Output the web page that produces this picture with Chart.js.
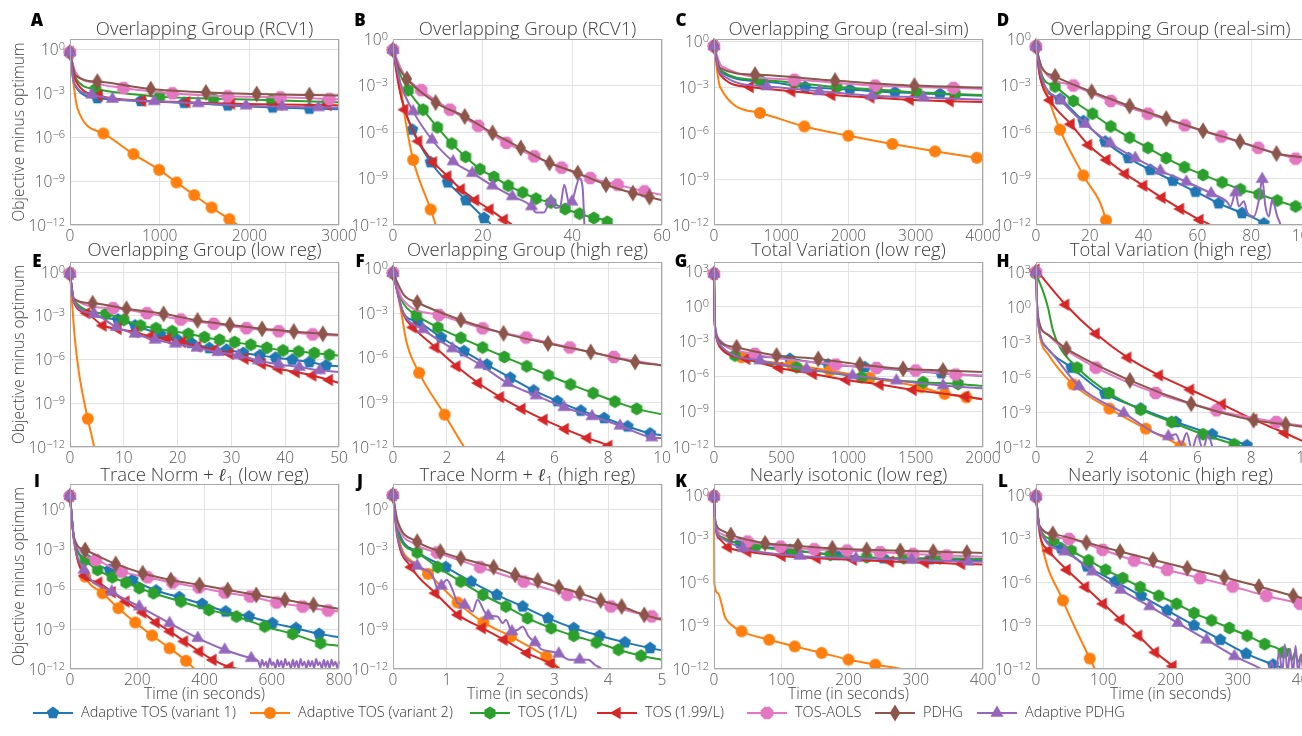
<!DOCTYPE html>
<html>
<head>
<meta charset="utf-8">
<script src="https://cdn.jsdelivr.net/npm/chart.js"></script>
<style>
  html, body { margin: 0; padding: 0; background: #fff; overflow: hidden; }
  #page { position: relative; width: 1302px; height: 736px; overflow: hidden; background: #fff; }
  canvas.panel { position: absolute; }
  .leg-icon { position: absolute; top: 703px; }
  .leg-text { position: absolute; top: 702px; font: 300 14.5px "Open Sans", sans-serif; color: #333; line-height: 20px; white-space: nowrap; }
</style>
</head>
<body>
<div id="page"></div>
<script>
// series (same order in every panel)
const seriesNames = ['Adaptive TOS (variant 1)', 'Adaptive TOS (variant 2)', 'TOS (1/L)', 'TOS (1.99/L)', 'TOS-AOLS', 'PDHG', 'Adaptive PDHG'];
const seriesColors = ['#1f77b4', '#ff7f0e', '#2ca02c', '#d62728', '#e377c2', '#8c564b', '#9467bd'];
const seriesShapes = ['pentagon', 'circle', 'hexagon', 'triLeft', 'octagon', 'thinDiamond', 'triUp'];

// panels
const panelLetters = ['A','B','C','D','E','F','G','H','I','J','K','L'];
const panelTitles = [
  'Overlapping Group (RCV1)', 'Overlapping Group (RCV1)', 'Overlapping Group (real-sim)', 'Overlapping Group (real-sim)',
  'Overlapping Group (low reg)', 'Overlapping Group (high reg)', 'Total Variation (low reg)', 'Total Variation (high reg)',
  'Trace Norm + ℓ1 (low reg)', 'Trace Norm + ℓ1 (high reg)', 'Nearly isotonic (low reg)', 'Nearly isotonic (high reg)'
];
const xMax  = [3000, 60, 4000, 100, 50, 10, 2000, 10, 800, 5, 400, 400];
const xStep = [1000, 20, 1000, 20, 10, 2, 500, 2, 200, 1, 100, 100];
// y axis: top of axis and tick positions, as powers of ten
const yTopExp = [0.75, 0, 0.17, 0, 0.7, 0.47, 3.77, 3.86, 1.96, 1.9, 0.76, 0.76];
const yTicksLow = [0, -3, -6, -9, -12];
const yTicksHigh = [3, 0, -3, -6, -9, -12];

// data: [time, log10(objective - optimum)]
// *_marks: points that carry a marker; *_bends: line-only vertices (initial drop, tails, ends)
const A_marks = [
  [[0,-0.16],[305,-3.3],[790,-3.5],[1274,-3.62],[1760,-3.8],[2261,-3.94],[2670,-4.02]],
  [[0,-0.16],[372,-5.72],[708,-7.14],[994,-8.22],[1188,-9.08],[1385,-9.95],[1579,-10.8],[1777,-11.6]],
  [[0,-0.16],[287,-2.68],[1000,-3.2],[1600,-3.34],[2250,-3.45],[2870,-3.57]],
  [[0,-0.16],[324,-3.13],[808,-3.48],[1300,-3.58],[1800,-3.68],[2330,-3.74],[2875,-3.78]],
  [[0,-0.16],[596,-2.61],[1143,-2.97],[1758,-3.18],[2346,-3.25],[2894,-3.36]],
  [[0,-0.16],[305,-2.17],[901,-2.68],[1516,-2.91],[2082,-3.02],[2670,-3.09]],
  [[0,-0.16],[242,-3.07],[473,-3.36],[939,-3.52],[1430,-3.66],[1963,-3.82],[2365,-3.89],[2771,-3.94]]
];
const A_bends = [
  [[45,-2.33],[3000,-4.06]],
  [[82,-3.98],[1870,-12.0],[2000,-12.5]],
  [[63,-1.92],[3000,-3.59]],
  [[63,-2.1],[3000,-3.8]],
  [[63,-1.53],[250,-2.22],[3000,-3.38]],
  [[63,-1.76],[3000,-3.12]],
  [[45,-2.22],[3000,-3.96]]
];
const B_marks = [
  [[0,-0.7],[4.3,-5.85],[8.4,-7.95],[12.2,-9.25],[16.3,-10.4],[20.3,-11.55]],
  [[0,-0.7],[4.5,-7.8],[8.4,-11.0]],
  [[0,-0.7],[3.4,-3.3],[6.7,-4.56],[9.9,-5.7],[13.1,-6.75],[16.2,-7.6],[19.4,-8.4],[22.5,-8.9],[25.7,-9.46],[28.9,-9.9],[31.9,-10.3],[35.2,-10.55],[38.4,-10.97],[41.6,-11.27],[44.8,-11.55],[47.8,-11.8]],
  [[0,-0.7],[2.6,-4.56],[5.7,-6.6],[9,-7.95],[12.2,-8.86],[15.2,-9.7],[18.4,-10.4],[21.6,-11.0],[24.8,-11.66]],
  [[0,-0.7],[6.3,-3.3],[12.7,-4.56],[19,-5.6],[25.3,-6.7],[31.5,-7.57],[37.6,-8.3],[44,-8.97],[50.1,-9.4],[56.1,-9.83]],
  [[0,-0.7],[3.1,-2.58],[9.5,-4.1],[16,-5.0],[22.2,-6.06],[28.5,-7.03],[34.9,-8.0],[41.2,-8.65],[47.5,-9.4],[53.5,-9.94],[57.2,-10.2]],
  [[0,-0.7],[4.5,-4.67],[8.7,-6.5],[13.4,-7.9],[17.7,-8.65],[22.2,-9.46],[26.6,-10.15],[30.9,-10.8],[35.2,-10.45],[39.9,-10.5]]
];
const B_bends = [
  [[2,-3.9],[21.8,-12],[22.5,-12.6]],
  [[1.6,-2.9],[2.8,-5.3],[9.5,-12],[10.2,-13]],
  [[1.2,-2.0],[48.3,-12],[50,-12.4]],
  [[1.3,-3.05],[26.6,-12],[28,-12.4]],
  [[2.5,-2.3],[60,-10.05]],
  [[1.2,-1.8],[60,-10.4]],
  [[1.6,-2.8],[31.9,-11.2],[33.6,-11.2],[36.3,-10.9],[37.3,-10.8],[38.2,-9.4],[39.3,-10.6],[41.6,-9.0],[42.3,-9.6],[42.7,-12],[43,-13]]
];
const C_marks = [
  [[0,-0.3],[710,-2.6],[1355,-2.97],[2020,-3.14],[2690,-3.32],[3360,-3.43]],
  [[0,-0.3],[684,-4.67],[1343,-5.55],[1998,-6.16],[2652,-6.7],[3287,-7.18],[3908,-7.6]],
  [[0,-0.3],[660,-2.5],[1200,-2.7],[1825,-2.97],[2420,-3.14],[3015,-3.32],[3585,-3.43]],
  [[0,-0.3],[535,-2.97],[1155,-3.25],[1750,-3.5],[2330,-3.65],[2915,-3.8],[3510,-3.9]],
  [[0,-0.3],[1195,-2.5],[2395,-2.88],[3560,-3.03]],
  [[0,-0.3],[610,-2.16],[1800,-2.55],[2980,-2.88]],
  [[0,-0.3],[785,-2.93],[1565,-3.25],[2345,-3.54],[3115,-3.65]]
];
const C_bends = [
  [[90,-1.94],[4000,-3.55]],
  [[90,-2.97],[4000,-7.65]],
  [[90,-1.83],[4000,-3.5]],
  [[90,-2.16],[4000,-3.95]],
  [[114,-1.6],[4000,-3.1]],
  [[90,-1.72],[4000,-3.0]],
  [[90,-2.05],[4000,-3.8]]
];
const D_marks = [
  [[0,-0.48],[8.9,-3.88],[17.6,-5.3],[25.7,-6.62],[34.4,-7.68],[42.5,-8.44],[50.9,-9.14],[59.3,-9.85],[67.9,-10.6],[76.6,-11.23],[84.7,-11.9]],
  [[0,-0.48],[8.9,-5.85],[17.6,-8.8],[26,-11.7]],
  [[0,-0.48],[7.1,-3.07],[13.9,-4.0],[21,-4.82],[27.8,-5.64],[34.8,-6.36],[41.6,-7.02],[48.4,-7.68],[55.2,-8.27],[62.1,-8.77],[69.2,-9.25],[76,-9.7],[82.9,-10.02],[89.7,-10.42],[96.5,-10.8]],
  [[0,-0.48],[5.2,-3.95],[13,-5.5],[19.5,-6.84],[26.3,-7.8],[33.2,-8.7],[40,-9.47],[46.8,-10.24],[53.7,-10.96],[60.9,-11.67]],
  [[0,-0.48],[13.9,-3.0],[27.8,-4.0],[41.6,-4.82],[55.3,-5.57],[68.9,-6.29],[82.6,-7.02],[96.5,-7.72]],
  [[0,-0.48],[7.1,-2.41],[20.7,-3.4],[34.8,-4.32],[48.4,-5.13],[62.1,-5.92],[75.8,-6.62],[89.4,-7.39]],
  [[0,-0.48],[9.2,-3.95],[18.3,-5.48],[27.6,-6.73],[36.9,-7.68],[46.2,-8.49],[55.9,-9.21],[65.1,-9.96],[74.2,-9.9],[84.1,-9.04]]
];
const D_bends = [
  [[1.7,-2.57],[85.3,-12],[87,-12.5]],
  [[2.7,-2.7],[26.3,-12],[27,-12.6]],
  [[1.8,-2.2],[100,-10.9]],
  [[1.5,-2.46],[64.8,-12],[67,-12.4]],
  [[2.1,-1.85],[100,-7.85]],
  [[2.1,-1.8],[100,-7.65]],
  [[1.9,-2.35],[71,-10.5],[72.3,-10.8],[75.4,-10.8],[77.3,-10.46],[78.5,-11.2],[81,-11.45],[82.9,-10.35],[85.3,-10.8],[86.6,-11.45],[87.8,-10.35],[89.7,-11.45],[90.9,-12],[91.5,-12.6]]
];
const E_marks = [
  [[0,-0.1],[8.9,-3.25],[12.1,-3.66],[16.8,-4.27],[19.9,-4.62],[22.5,-4.85],[25.9,-5.21],[29.1,-5.33],[32.2,-5.55],[35.3,-5.71],[38.2,-5.87],[41.3,-6.01],[44.5,-6.17],[47.6,-6.4]],
  [[0,-0.1],[3.3,-10.06]],
  [[0,-0.1],[6.7,-2.86],[10,-3.27],[13.1,-3.66],[16,-3.85],[19,-4.05],[22,-4.23],[25,-4.46],[27.8,-4.64],[30.6,-4.8],[33.6,-4.98],[36.6,-5.19],[39.6,-5.37],[42.5,-5.44],[45.4,-5.55],[48.2,-5.67]],
  [[0,-0.1],[3.1,-2.81],[6.1,-3.66],[8.9,-3.89],[12.1,-4.11],[14.9,-4.41],[18.1,-4.57],[20.9,-4.8],[23.7,-5.1],[26.9,-5.33],[29.7,-5.6],[32.5,-5.94],[35.7,-6.29],[38.8,-6.63],[42,-6.86],[45.1,-7.09],[48.2,-7.4]],
  [[0,-0.1],[8,-2.47],[14.3,-2.81],[20.6,-3.25],[26.7,-3.54],[32.8,-3.84],[38.8,-4.05],[45.1,-4.27]],
  [[0,-0.1],[4.2,-2.13],[10.5,-2.51],[17.4,-2.86],[23.7,-3.31],[29.7,-3.61],[35.7,-3.89],[41.6,-4.07],[47,-4.23]],
  [[0,-0.1],[4.5,-2.86],[8.6,-3.77],[12.1,-4.23],[15.8,-4.64],[19.6,-4.91],[23.6,-5.19],[27.5,-5.49],[31.3,-5.71],[35,-6.06],[38.8,-6.33],[42.6,-6.51],[46.4,-6.74]]
];
const E_bends = [
  [[0.75,-2.0],[50,-6.45]],
  [[0.44,-2.4],[0.94,-4.7],[1.7,-7.0],[4.5,-12],[5,-13]],
  [[0.75,-1.94],[50,-5.72]],
  [[0.75,-2.1],[50,-7.6]],
  [[0.75,-1.83],[50,-4.35]],
  [[0.75,-1.85],[50,-4.3]],
  [[0.75,-2.05],[50,-6.85]]
];
const F_marks = [
  [[0,-0.27],[0.92,-3.55],[1.79,-4.62],[2.64,-5.54],[3.49,-6.45],[4.36,-7.33],[5.23,-8.19],[6.11,-8.91],[6.98,-9.55],[7.85,-10.05],[8.72,-10.61],[9.56,-11.09]],
  [[0,-0.27],[0.97,-7.0],[1.92,-9.82]],
  [[0,-0.27],[0.87,-3.1],[1.67,-3.94],[2.52,-4.64],[3.33,-5.29],[4.14,-5.93],[4.97,-6.56],[5.78,-7.17],[6.6,-7.78],[7.44,-8.37],[8.25,-8.94],[9.06,-9.43]],
  [[0,-0.27],[0.75,-3.94],[1.58,-5.29],[2.37,-6.56],[3.17,-7.69],[3.99,-8.64],[4.79,-9.43],[5.61,-10.16],[6.4,-10.79],[7.23,-11.4],[8.02,-11.92]],
  [[0,-0.27],[1.71,-3.1],[3.33,-4.0],[4.95,-4.62],[6.57,-5.29],[8.21,-5.93]],
  [[0,-0.27],[0.9,-2.26],[2.52,-3.44],[4.11,-4.34],[5.76,-5.02],[7.35,-5.59],[9.0,-6.27]],
  [[0,-0.27],[1.12,-4.07],[2.21,-5.36],[3.24,-6.45],[4.26,-7.69],[5.32,-8.53],[6.36,-9.32],[7.4,-9.93],[8.44,-10.57],[9.62,-11.36]]
];
const F_bends = [
  [[0.4,-3.0],[10,-11.2]],
  [[0.27,-2.53],[0.5,-4.9],[2.64,-12],[2.8,-12.5]],
  [[0.35,-2.2],[10,-9.8]],
  [[0.4,-3.1],[8.1,-12],[8.5,-12.3]],
  [[0.37,-2.08],[10,-6.5]],
  [[0.4,-1.74],[10,-6.5]],
  [[0.34,-2.76],[10,-11.4]]
];
const G_marks = [
  [[0,2.76],[564,-4.49],[849,-4.97],[1121,-5.2],[1690,-5.71]],
  [[0,2.76],[205,-4.35],[577,-4.97],[861,-5.48],[1158,-6.1],[1542,-6.9],[1715,-7.47],[1876,-7.76]],
  [[0,2.76],[156,-4.2],[614,-5.2],[1097,-6.05],[1554,-6.48],[1814,-6.62]],
  [[0,2.76],[243,-4.49],[485,-5.26],[738,-5.77],[985,-6.28],[1233,-6.68],[1480,-7.13],[1870,-7.7]],
  [[0,2.76],[304,-4.06],[906,-4.97],[1208,-5.26],[1500,-5.48],[1797,-5.82]],
  [[0,2.76],[168,-3.5],[465,-4.2],[775,-4.49],[1084,-4.97],[1406,-5.34],[1703,-5.48]],
  [[0,2.76],[342,-4.63],[688,-5.34],[1030,-5.91],[1356,-6.34],[1703,-6.76]]
];
const G_bends = [
  [[5,-1.0],[15,-2.3],[45,-3.1],[2000,-5.95]],
  [[5,-1.1],[15,-2.45],[45,-3.4],[2000,-7.9]],
  [[5,-1.1],[15,-2.4],[45,-3.3],[2000,-6.8]],
  [[5,-1.2],[15,-2.5],[45,-3.5],[2000,-7.95]],
  [[5,-1.0],[15,-2.2],[45,-2.9],[2000,-5.9]],
  [[5,-1.0],[15,-2.25],[45,-3.0],[2000,-5.6]],
  [[5,-1.1],[15,-2.4],[45,-3.3],[2000,-7.0]]
];
const H_marks = [
  [[0,3.0],[1.32,-5.2],[2.57,-7.43],[3.89,-8.71],[5.2,-9.86],[6.55,-10.91],[7.84,-11.86]],
  [[0,3.0],[1.38,-6.63],[2.73,-8.71],[4.08,-10.43],[5.37,-11.94]],
  [[0,2.86],[1.53,-5.2],[2.72,-7.37],[3.89,-8.8],[5.04,-9.86],[6.21,-10.91],[7.37,-11.77]],
  [[0,3.2],[1.1,0.2],[2.23,-2.29],[3.41,-4.34],[4.58,-5.86],[5.74,-7.09],[6.92,-8.34],[8.09,-9.66],[9.25,-10.8]],
  [[0,3.0],[2.23,-5.2],[4.45,-7.37],[6.71,-8.86],[8.93,-9.86]],
  [[0,3.0],[1.13,-3.57],[3.49,-6.29],[5.77,-8.29],[8.09,-9.71],[9.28,-10.06]],
  [[0,3.0],[1.6,-6.8],[3.26,-9.09],[4.92,-11.09]]
];
const H_bends = [
  [[0.06,-0.86],[0.38,-3.43],[7.96,-12],[8.2,-12.4]],
  [[0.06,-0.86],[0.44,-4.0],[5.4,-12],[5.6,-12.4]],
  [[0.25,1.43],[0.44,0],[0.63,-2.0],[0.88,-3.43],[7.71,-12],[8,-12.4]],
  [[10,-11.6]],
  [[0.06,-0.6],[0.4,-2.3],[0.88,-3.3],[10,-10.2]],
  [[0.06,-0.6],[0.4,-2.3],[10,-10.3]],
  [[0.06,-0.86],[0.5,-3.71],[5.2,-10.9],[5.4,-11.8],[5.6,-10.8],[5.8,-12.2],[6.0,-11.0],[6.2,-12.2],[6.4,-11.0],[6.6,-12.3],[6.7,-12.6]]
];
const I_marks = [
  [[0,1.05],[49,-3.72],[118,-4.52],[186,-5.28],[256,-6.08],[325,-6.58],[393,-7.09],[463,-7.66],[532,-8.04],[602,-8.54],[672,-8.92],[741,-9.35]],
  [[0,1.05],[45,-5.03],[97,-6.28],[144,-7.41],[194,-8.49],[244,-9.47],[296,-10.43],[345,-11.38]],
  [[0,1.05],[45,-3.77],[82,-4.52],[126,-5.08],[166,-5.48],[206,-5.9],[248,-6.28],[330,-6.91],[413,-7.54],[495,-8.04],[579,-8.79],[662,-9.35],[745,-10.05]],
  [[0,1.05],[44,-4.97],[85,-5.48],[125,-6.2],[166,-6.91],[216,-7.74],[256,-8.49],[298,-9.17],[340,-9.92],[385,-10.68],[425,-11.31],[475,-11.86]],
  [[0,1.05],[77,-3.77],[154,-4.65],[231,-5.08],[305,-5.48],[383,-5.85],[460,-6.23],[536,-6.53],[614,-6.98],[692,-7.29],[768,-7.59]],
  [[0,1.05],[45,-3.02],[136,-4.07],[216,-4.77],[300,-5.28],[385,-5.65],[469,-6.03],[554,-6.41],[639,-6.78],[724,-7.16]],
  [[0,1.05],[42,-4.52],[124,-6.16],[206,-7.29],[296,-8.54],[380,-9.67],[460,-10.55],[539,-11.18]]
];
const I_bends = [
  [[12,-2.15],[800,-9.6]],
  [[12,-2.3],[370,-12.0],[385,-12.4]],
  [[12,-2.2],[800,-10.25]],
  [[12,-2.3],[504,-12.06],[520,-12.4]],
  [[12,-2.1],[800,-7.65]],
  [[12,-2.1],[800,-7.45]],
  [[12,-2.25],[560,-11.4],[566,-11.9],[571,-11.3],[577,-11.75],[583,-11.45],[588,-11.95],[594,-11.2],[600,-11.7],[605,-11.5],[611,-11.95],[617,-11.3],[622,-11.8],[628,-11.4],[634,-11.95],[640,-11.25],[645,-11.7],[651,-11.5],[657,-11.95],[663,-11.3],[668,-11.85],[674,-11.4],[680,-11.95],[686,-11.25],[691,-11.75],[697,-11.45],[703,-11.95],[709,-11.35],[714,-11.8],[720,-11.4],[726,-11.95],[732,-11.25],[737,-11.7],[743,-11.5],[749,-11.95],[755,-11.3],[760,-11.85],[766,-11.4],[772,-11.95],[778,-11.3],[783,-11.75],[789,-11.45],[795,-11.9],[800,-11.4]]
];
const J_marks = [
  [[0,1.07],[0.98,-4.35],[1.45,-5.43],[1.93,-6.43],[2.41,-7.3],[2.88,-8.18],[3.36,-8.93],[3.84,-9.5],[4.31,-10.0],[4.78,-10.43]],
  [[0,1.07],[0.65,-4.85],[1.2,-7.0],[1.68,-8.5],[2.19,-9.55],[2.85,-11.05]],
  [[0,1.07],[0.45,-3.25],[0.83,-4.35],[1.26,-5.43],[1.67,-6.43],[2.1,-7.3],[2.5,-8.18],[2.94,-8.93],[3.36,-9.5],[3.78,-10.0],[4.19,-10.55],[4.61,-11.0]],
  [[0,1.07],[0.34,-4.35],[0.79,-6.3],[1.21,-7.93],[1.66,-8.93],[2.06,-9.8],[2.49,-10.8],[2.94,-11.6]],
  [[0,1.07],[0.82,-3.25],[1.62,-4.35],[2.43,-5.43],[3.24,-6.43],[4.05,-7.3],[4.81,-8.05]],
  [[0,1.07],[0.45,-2.43],[0.88,-3.18],[1.26,-3.68],[1.87,-4.35],[2.27,-4.93],[2.69,-5.35],[3.08,-5.85],[3.47,-6.3],[3.86,-6.85],[4.25,-7.3],[4.67,-7.93]],
  [[0,1.07],[0.45,-4.25],[0.9,-5.75],[1.33,-7.18],[1.77,-8.0],[2.21,-9.18],[2.64,-10.0],[3.08,-10.85],[3.47,-11.3]]
];
const J_bends = [
  [[0.08,-1.3],[0.45,-3.2],[5,-10.6]],
  [[0.1,-2.05],[0.39,-4.05],[2.63,-10.55],[2.99,-11.55],[3.1,-12],[3.2,-12.4]],
  [[0.08,-1.6],[5,-11.3]],
  [[0.07,-1.8],[3.1,-12],[3.3,-12.4]],
  [[0.08,-1.0],[0.4,-2.6],[5,-8.2]],
  [[0.08,-0.8],[5,-8.3]],
  [[0.09,-2.18],[0.76,-5.18],[0.82,-5.93],[1.0,-5.3],[1.12,-6.18],[1.2,-7.05],[1.48,-7.68],[1.57,-6.8],[1.7,-7.68],[1.94,-8.05],[2.04,-8.55],[2.1,-8.3],[2.32,-9.05],[2.41,-8.8],[2.52,-9.55],[2.75,-10.5],[2.94,-10.68],[3.28,-11.3],[3.63,-11.3],[3.75,-11.68],[3.88,-12.0],[3.95,-12.4]]
];
const K_marks = [
  [[0,-0.1],[39,-3.33],[113,-3.78],[182,-4.13],[252,-4.36],[321,-4.43]],
  [[0,-0.1],[41,-9.4],[82,-9.98],[120,-10.44],[160,-10.89],[200,-11.35],[240,-11.7]],
  [[0,-0.1],[61,-3.56],[118,-3.83],[173,-4.13],[227,-4.29],[282,-4.36],[336,-4.36]],
  [[0,-0.1],[21,-3.6],[50,-3.9],[101,-4.2],[153,-4.36],[207,-4.47],[262,-4.59],[314,-4.66],[368,-4.75]],
  [[0,-0.1],[50,-3.21],[99,-3.56],[149,-3.74],[198,-3.83],[247,-3.94],[296,-4.06],[346,-4.17]],
  [[0,-0.1],[25,-2.75],[76,-3.33],[125,-3.51],[176,-3.67],[227,-3.78],[277,-3.85],[326,-3.9],[376,-3.97]],
  [[0,-0.1],[43,-3.67],[128,-4.2],[211,-4.36],[294,-4.47],[378,-4.59]]
];
const K_bends = [
  [[2,-2.05],[12,-2.95],[400,-4.5]],
  [[0.5,-6.08],[6,-6.77],[11,-7.45],[16,-8.37],[24,-8.88],[279,-12.0],[300,-12.3]],
  [[2,-2.0],[12,-2.9],[400,-4.4]],
  [[2,-2.2],[10,-3.1],[400,-4.8]],
  [[2,-1.8],[12,-2.7],[400,-4.25]],
  [[2,-1.8],[10,-2.4],[400,-4.0]],
  [[2,-2.1],[12,-3.0],[400,-4.6]]
];
const L_marks = [
  [[0,-0.1],[37.5,-3.67],[76,-4.93],[117.5,-5.96],[156.5,-6.95],[195,-7.96],[235,-8.99],[274,-9.98],[312.5,-10.94],[352.5,-11.7]],
  [[0,-0.1],[40,-7.27],[80,-11.28]],
  [[0,-0.1],[26.5,-3.1],[52.5,-3.83],[78,-4.5],[103.5,-5.16],[129,-5.73],[155,-6.35],[182.5,-6.95],[209,-7.5],[235,-8.14],[261,-8.65],[287.5,-9.17],[314,-9.7],[340,-10.28],[367.5,-10.85]],
  [[0,-0.1],[19,-3.83],[46,-5.16],[73.5,-6.35],[100,-7.5],[126,-8.6],[152.5,-9.7],[177.5,-10.85],[203.5,-11.81]],
  [[0,-0.1],[49,-3.03],[99,-3.78],[146,-4.52],[195,-5.16],[244,-5.73],[292.5,-6.31],[342.5,-6.95],[392.5,-7.5]],
  [[0,-0.1],[25,-2.68],[75,-3.28],[125,-3.9],[174,-4.47],[225,-5.05],[280,-5.67],[331.5,-6.31],[382.5,-6.95]],
  [[0,-0.1],[42.5,-3.9],[84,-5.28],[126,-6.54],[169,-7.68],[211,-8.83],[253.5,-9.98],[295,-11.12]]
];
const L_bends = [
  [[5,-2.25],[365,-11.93],[372,-12.3]],
  [[5,-2.18],[7.5,-3.1],[87.5,-12],[92,-12.6]],
  [[5,-2.2],[372,-11.2],[376,-10.6],[380,-11.4],[385,-10.9],[390,-11.5],[395,-11.0],[400,-11.3]],
  [[5,-2.52],[207.5,-12],[215,-12.4]],
  [[5,-2.15],[400,-7.6]],
  [[5,-2.1],[400,-7.15]],
  [[5,-2.3],[335,-12],[345,-12.3],[350,-11.5],[355,-12.3],[362,-10.9],[366,-12.3],[370,-10.3],[374,-12.3],[378,-10.6],[382,-12.3],[386,-10.4],[390,-12.3],[394,-11.0],[398,-12.3],[400,-10.6]]
];

const panelMarks = [A_marks, B_marks, C_marks, D_marks, E_marks, F_marks, G_marks, H_marks, I_marks, J_marks, K_marks, L_marks];
const panelBends = [A_bends, B_bends, C_bends, D_bends, E_bends, F_bends, G_bends, H_bends, I_bends, J_bends, K_bends, L_bends];

// legend placement
const legIconLeft = [33, 250, 470, 597, 747, 875, 977];

// ---- layout ----
const FONT = '"Open Sans", sans-serif';
const W_LEFT = 70, W_RIGHT = 30, TOP_PAD = 39;
const colLeft = [70, 393, 714, 1036];
const plotW = 269;
const rowTop = [39, 262, 484];
const rowH = [186, 185, 185];
const rowAxisH = [22, 22, 40];
const rowTitleBase = [-4, -6, -3];
const rowLetterBase = [-13, 5, 3];

function makeMarker(shape, color) {
  const c = document.createElement('canvas');
  c.width = 20; c.height = 20;
  const g = c.getContext('2d');
  g.fillStyle = color;
  g.translate(10, 10);
  g.beginPath();
  const poly = (n, r, a0) => {
    for (let k = 0; k < n; k++) {
      const a = a0 + k * 2 * Math.PI / n;
      const px = r * Math.cos(a), py = r * Math.sin(a);
      if (k) g.lineTo(px, py); else g.moveTo(px, py);
    }
    g.closePath();
  };
  if (shape === 'circle') g.arc(0, 0, 6, 0, 2 * Math.PI);
  else if (shape === 'pentagon') poly(5, 6.4, -Math.PI / 2);
  else if (shape === 'hexagon') poly(6, 6.4, -Math.PI / 2);
  else if (shape === 'octagon') poly(8, 6.8, Math.PI / 8);
  else if (shape === 'triLeft') poly(3, 7.2, Math.PI);
  else if (shape === 'triUp') poly(3, 7.6, -Math.PI / 2);
  else if (shape === 'thinDiamond') { g.moveTo(0, -8.5); g.lineTo(5.2, 0); g.lineTo(0, 8.5); g.lineTo(-5.2, 0); g.closePath(); }
  g.fill();
  return c;
}
const markerImgs = seriesShapes.map((s, k) => makeMarker(s, seriesColors[k]));

function buildPoints(marks, bends) {
  const pts = marks.map(p => ({x: p[0], y: Math.pow(10, p[1]), m: true}))
    .concat(bends.map(p => ({x: p[0], y: Math.pow(10, p[1]), m: false})));
  pts.sort((a, b) => a.x - b.x);
  return pts;
}

function drawTitle(ctx, text, cx, base) {
  const TF = '300 18.5px ' + FONT;
  const parts = [];
  const k = text.indexOf('ℓ1');
  if (k < 0) parts.push({t: text, f: TF, dy: 0});
  else {
    parts.push({t: text.slice(0, k), f: TF, dy: 0});
    parts.push({t: 'ℓ', f: 'italic bold 18px "DejaVu Serif"', dy: 0});
    parts.push({t: '1', f: '300 13px ' + FONT, dy: 4});
    parts.push({t: text.slice(k + 2), f: TF, dy: 0});
  }
  let w = 0;
  parts.forEach(p => { ctx.font = p.f; p.w = ctx.measureText(p.t).width; w += p.w; });
  let x = cx - w / 2;
  ctx.textAlign = 'left';
  ctx.textBaseline = 'alphabetic';
  parts.forEach(p => { ctx.font = p.f; ctx.fillText(p.t, x, base + p.dy); x += p.w; });
}

const decor = {
  id: 'decor',
  afterDatasetsDraw(chart) {
    const {ctx, chartArea: a} = chart;
    ctx.save();
    ctx.strokeStyle = '#a8a8a8';
    ctx.lineWidth = 1;
    ctx.strokeRect(a.left + 0.5, a.top + 0.5, a.width - 1, a.height - 1);
    ctx.restore();
  },
  afterDraw(chart, args, o) {
    const {ctx, chartArea: a} = chart;
    ctx.save();
    // y tick labels as 10 with a raised exponent
    const ys = chart.scales.y;
    ctx.fillStyle = '#555';
    ctx.textAlign = 'right';
    ctx.textBaseline = 'alphabetic';
    ys.ticks.forEach(t => {
      const py = ys.getPixelForValue(t.value);
      const e = Math.round(Math.log10(t.value));
      const es = e < 0 ? '\u2212' + (-e) : String(e);
      const xr = a.left - 5;
      ctx.font = '300 11px ' + FONT;
      const ew = ctx.measureText(es).width;
      ctx.fillText(es, xr, py + 0.5);
      ctx.font = '300 15.5px ' + FONT;
      ctx.fillText('10', xr - ew, py + 5.5);
    });
    // title
    ctx.fillStyle = '#3a3a3a';
    drawTitle(ctx, o.title, (a.left + a.right) / 2, a.top + o.titleBase);
    // panel letter
    ctx.fillStyle = '#000';
    ctx.font = '800 17px ' + FONT;
    ctx.textAlign = 'center';
    ctx.fillText(o.letter, a.left - 33, a.top + o.letterBase);
    ctx.restore();
  }
};

const page = document.getElementById('page');

for (let i = 0; i < 12; i++) {
  const r = Math.floor(i / 4), c = i % 4;
  const cv = document.createElement('canvas');
  cv.className = 'panel';
  cv.width = W_LEFT + plotW + W_RIGHT;
  cv.height = TOP_PAD + rowH[r] + rowAxisH[r];
  cv.style.left = (colLeft[c] - W_LEFT) + 'px';
  cv.style.top = (rowTop[r] - TOP_PAD) + 'px';
  page.appendChild(cv);

  const datasets = seriesNames.map((name, s) => ({
    label: name,
    data: buildPoints(panelMarks[i][s], panelBends[i][s]),
    order: 6 - s,
    borderColor: seriesColors[s],
    backgroundColor: seriesColors[s],
    borderWidth: 2,
    cubicInterpolationMode: 'monotone',
    pointStyle: markerImgs[s],
    pointRadius: ctx => (ctx.raw && ctx.raw.m) ? 5 : 0,
    clip: {left: 10, top: 10, right: 4, bottom: 0}
  }));

  const yTicks = yTopExp[i] > 2.5 ? yTicksHigh : yTicksLow;
  const xTicks = [];
  for (let v = 0; v <= xMax[i] + 1e-9; v += xStep[i]) xTicks.push(v);

  new Chart(cv, {
    type: 'line',
    data: {datasets},
    options: {
      responsive: false,
      animation: false,
      events: [],
      devicePixelRatio: 1,
      layout: {padding: {left: 0, top: TOP_PAD, right: W_RIGHT, bottom: 0}},
      plugins: {
        legend: {display: false},
        tooltip: {enabled: false},
        decor: {letter: panelLetters[i], title: panelTitles[i], titleBase: rowTitleBase[r], letterBase: rowLetterBase[r]}
      },
      scales: {
        x: {
          type: 'linear', min: 0, max: xMax[i],
          afterBuildTicks: s => { s.ticks = xTicks.map(v => ({value: v})); },
          afterFit: s => { s.height = rowAxisH[r]; },
          grid: {color: '#e2e2e2', lineWidth: 1, drawTicks: false},
          border: {display: false},
          ticks: {color: '#555', font: {family: FONT, size: 15.5, weight: '300'}, padding: 2, maxRotation: 0, autoSkip: false, callback: v => String(v)},
          title: {display: r === 2, text: 'Time (in seconds)', color: '#444', font: {family: FONT, size: 15.5, weight: '300'}, padding: {top: 0, bottom: 5}}
        },
        y: {
          type: 'logarithmic', min: 1e-12, max: Math.pow(10, yTopExp[i]),
          afterBuildTicks: s => { s.ticks = yTicks.map(e => ({value: Math.pow(10, e)})); },
          afterFit: s => { s.width = W_LEFT; },
          grid: {color: '#e2e2e2', lineWidth: 1, drawTicks: false},
          border: {display: false},
          ticks: {display: false},
          title: {display: c === 0, text: 'Objective minus optimum', color: '#444', font: {family: FONT, size: 15.5, weight: '300'}, padding: {top: 10, bottom: 0}}
        }
      }
    },
    plugins: [decor]
  });
}

// legend row
seriesNames.forEach((name, s) => {
  const ic = document.createElement('canvas');
  ic.width = 40; ic.height = 20;
  ic.className = 'leg-icon';
  ic.style.left = legIconLeft[s] + 'px';
  const g = ic.getContext('2d');
  g.strokeStyle = seriesColors[s];
  g.lineWidth = 2;
  g.beginPath(); g.moveTo(0, 10); g.lineTo(40, 10); g.stroke();
  const im = markerImgs[s];
  g.drawImage(im, 20 - im.width / 2, 10 - im.height / 2);
  page.appendChild(ic);
  const tx = document.createElement('div');
  tx.className = 'leg-text';
  tx.textContent = name;
  tx.style.left = (legIconLeft[s] + 48) + 'px';
  page.appendChild(tx);
});
</script>
</body>
</html>
